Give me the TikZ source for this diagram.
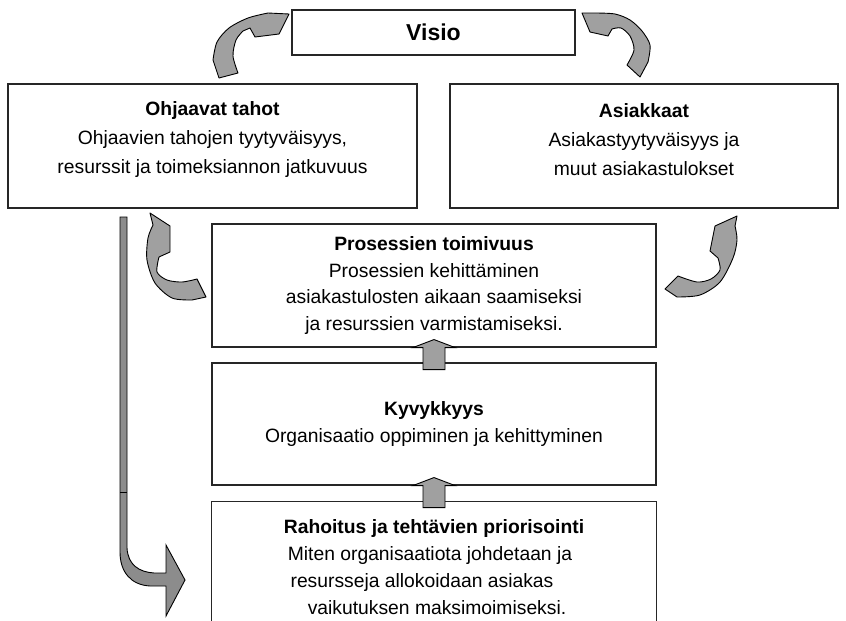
\documentclass[tikz,border=0pt]{standalone}
\usepackage{fontspec}
\setmainfont{Liberation Sans}
\definecolor{arrgray}{RGB}{160,160,160}
\definecolor{bargray}{RGB}{140,140,140}
\newcommand\txtfont{\fontsize{19.3}{26.8}\selectfont}
\newcommand\wtxtfont{\fontsize{19.3}{29}\selectfont}
\newcommand\visiofont{\fontsize{23}{26}\selectfont\bfseries}
\begin{document}
\begin{tikzpicture}[x=1pt,y=-1pt,
  box/.style={draw=black!85, line width=1.1pt, fill=white, inner sep=0pt, align=center, font=\txtfont},
  plain/.style={inner sep=0pt, align=center, font=\txtfont},
  edge/.style={draw=black!85, line width=1.1pt},
  blk/.style={draw=black, line width=0.9pt, fill=arrgray, line join=miter},
  carr/.style={draw=black, line width=0.9pt, fill=arrgray, line join=round}]
\useasboundingbox (0,0) rectangle (846,621);
\clip (0,0) rectangle (846,621);

% boxes
\node[box, minimum width=283pt, minimum height=45pt, font=\visiofont] (visio) at (433.5,32.5) {Visio};
\node[box, minimum width=409pt, minimum height=124pt] (ohj) at (212.5,146) {};
\node[plain, font=\wtxtfont] (ohjt) at ([yshift=6pt]ohj.center)
  {\textbf{Ohjaavat tahot}\\Ohjaavien tahojen tyytyväisyys,\\resurssit ja toimeksiannon jatkuvuus};
\node[box, minimum width=388pt, minimum height=124pt] (asi) at (644,146) {};
\node[plain, font=\wtxtfont] (asit) at ([yshift=6pt]asi.center)
  {\textbf{Asiakkaat}\\Asiakastyytyväisyys ja\\muut asiakastulokset};
\node[box, minimum width=444pt, minimum height=123pt] (pro) at (434,285.5)
  {\textbf{Prosessien toimivuus}\\Prosessien kehittäminen\\asiakastulosten aikaan saamiseksi\\ja resurssien varmistamiseksi.};
\node[box, minimum width=444pt, minimum height=122pt] (kyv) at (434,424)
  {\textbf{Kyvykkyys}\\Organisaatio oppiminen ja kehittyminen};
\node[plain, minimum width=444pt, minimum height=130pt] (rah) at (434,567)
  {\textbf{Rahoitus ja tehtävien priorisointi}\\\mbox{Miten organisaatiota johdetaan ja\hspace{8pt}}\\\mbox{resursseja allokoidaan asiakas\hspace{24pt}}\\\mbox{\hspace{6pt}vaikutuksen maksimoimiseksi.}};
\draw[edge] (rah.south west) -- (rah.north west) -- (rah.north east) -- (rah.south east);

% block arrows between middle boxes
\draw[blk] (pro.south) ++(-11,22) -- ++(0,-22) -- ++(-10,0) -- ++(21,-8) -- ++(21,8) -- ++(-10,0) -- ++(0,22) -- cycle;
\draw[blk] (kyv.south) ++(-11,22) -- ++(0,-22) -- ++(-10,0) -- ++(21,-8) -- ++(21,8) -- ++(-10,0) -- ++(0,22) -- cycle;

% L-shaped arrow on the left
\draw[blk, fill=bargray] (120,217) -- (127,217) -- (127,548)
  .. controls (128,565) and (139,572) .. (154,573) -- (166,573) -- (166,545) -- (185,580)
  -- (166,616) -- (166,586) -- (150,586) .. controls (131,585) and (120,572) .. (120,552) -- cycle;
\draw[line width=0.9pt] (120,492) -- (127,492);

% curved arrows
\draw[carr] (289,14) -- (279,34) -- (255,37) -- (250,28)
  -- plot[smooth] coordinates {(243,31) (236,40) (233,56) (238,73)}
  -- (219,78)
  -- plot[smooth] coordinates {(213,60) (217,42) (229,28) (248,18) (268,13)} -- cycle;
\draw[carr] (582,13) -- (590,32) -- (608,36)
  -- plot[smooth] coordinates {(612,29) (621,28) (630,36) (634,50) (627,65)}
  -- (640,77)
  -- plot[smooth] coordinates {(648,62) (650,45) (642,31) (630,20) (615,14) (595,13)} -- cycle;
\draw[carr] (150,213) -- (170,226) -- (170,252)
  -- plot[smooth] coordinates {(159,257) (157,272) (167,280) (182,282) (197,279)}
  -- (206,297)
  -- plot[smooth] coordinates {(192,300) (172,298) (155,283) (147,260) (148,238) (153,225)} -- cycle;
\draw[carr] (737,216) -- (715,226) -- (710,251)
  -- plot[smooth] coordinates {(718,258) (720,270) (711,279) (697,282) (678,276)}
  -- (665,289)
  -- plot[smooth] coordinates {(677,297) (700,295) (720,282) (733,258) (737,240) (735,226)} -- cycle;
\end{tikzpicture}
\end{document}
